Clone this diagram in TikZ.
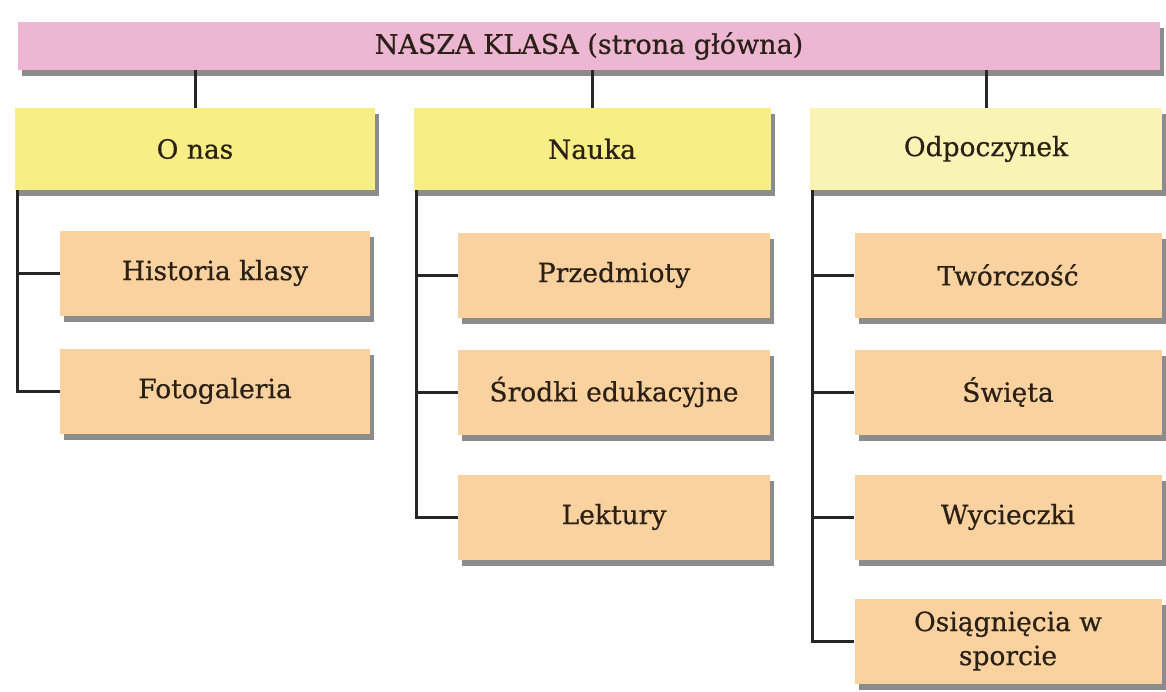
\documentclass[tikz,border=0pt]{standalone}
\usepackage{fontspec}
\setmainfont{DejaVu Serif}
\newfontfamily\boxfont{DejaVu Serif}[FakeBold=0.6]
\usetikzlibrary{shadows}
\definecolor{pinkbar}{HTML}{EDB6D2}
\definecolor{yellowbox}{HTML}{F7EE86}
\definecolor{yellowlight}{HTML}{FAF4B4}
\definecolor{orangebox}{HTML}{FAD2A0}
\definecolor{textcol}{HTML}{2A2016}
\tikzset{
  boxbase/.style={draw=none, text=textcol, font=\boxfont\fontsize{26.5}{34}\selectfont, align=center,
    drop shadow={shadow xshift=4pt, shadow yshift=-6pt, opacity=0.6, fill=black!75}},
  topbox/.style={boxbase, fill=pinkbar, minimum width=1142pt, minimum height=48pt, font=\boxfont\fontsize{27}{34}\selectfont},
  catbox/.style={boxbase, fill=yellowbox, minimum height=82pt},
  subbox/.style={boxbase, fill=orangebox, minimum height=85pt},
  conn/.style={line width=3pt, black!85}
}
\begin{document}
\begin{tikzpicture}[x=1pt,y=-1pt]
\useasboundingbox[fill=white] (0,0) rectangle (1166,691);
\node[topbox] (top) at (589,46) {NASZA KLASA (strona główna)};

\node[catbox, minimum width=360pt] (onas) at (195,149) {O nas};
\node[catbox, minimum width=357pt] (nauka) at (592,149) {Nauka};
\node[catbox, minimum width=352pt, fill=yellowlight] (odp) at (986,149) {Odpoczynek};

\node[subbox, minimum width=310pt] (hist) at (215,273) {Historia klasy};
\node[subbox, minimum width=310pt] (foto) at (215,391) {Fotogaleria};

\node[subbox, minimum width=312pt] (przed) at (614,275) {Przedmioty};
\node[subbox, minimum width=312pt] (srodki) at (614,392) {Środki edukacyjne};
\node[subbox, minimum width=312pt] (lekt) at (614,517) {Lektury};

\node[subbox, minimum width=307pt] (tworcz) at (1008,275) {Twórczość};
\node[subbox, minimum width=307pt] (swieta) at (1008,392) {Święta};
\node[subbox, minimum width=307pt] (wyc) at (1008,517) {Wycieczki};
\node[subbox, minimum width=307pt] (osiag) at (1008,641) {Osiągnięcia w\\sporcie};

\draw[conn] (onas.north) -- (onas.north |- top.south);
\draw[conn] (nauka.north) -- (nauka.north |- top.south);
\draw[conn] (odp.north) -- (odp.north |- top.south);

\coordinate (sa) at ([xshift=3pt]onas.south west);
\coordinate (sb) at ([xshift=3pt]nauka.south west);
\coordinate (sc) at ([xshift=3pt]odp.south west);

\draw[conn] (sa) |- (hist.west);
\draw[conn] (sa) |- (foto.west);
\draw[conn] (sb) |- (przed.west);
\draw[conn] (sb) |- (srodki.west);
\draw[conn] (sb) |- (lekt.west);
\draw[conn] (sc) |- (tworcz.west);
\draw[conn] (sc) |- (swieta.west);
\draw[conn] (sc) |- (wyc.west);
\draw[conn] (sc) |- (osiag.west);
\end{tikzpicture}
\end{document}
